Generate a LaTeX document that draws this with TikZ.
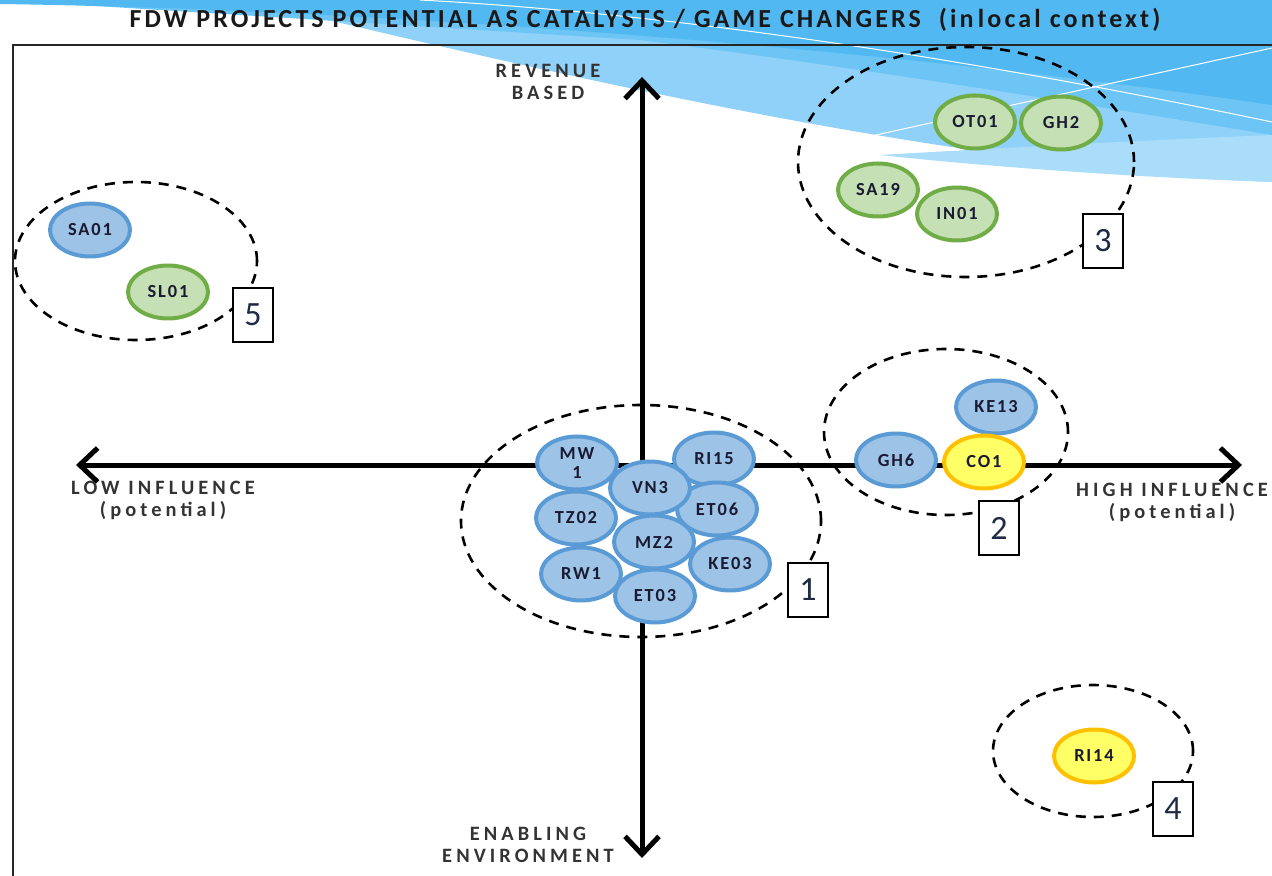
\documentclass[tikz,border=0pt]{standalone}
\usepackage{fontspec}
\setmainfont{Carlito}
\newfontfamily\titlefont[LetterSpace=12]{Carlito}
\newfontfamily\widefont[LetterSpace=20]{Carlito}
\newfontfamily\tagfont[LetterSpace=10]{Carlito}
\usepackage{xcolor}
\usetikzlibrary{shapes.geometric, arrows.meta}
\definecolor{swooshdark}{HTML}{52B8F1}
\definecolor{swooshmid}{HTML}{6CC5F5}
\definecolor{swooshlight}{HTML}{8FD1F8}
\definecolor{swooshpale}{HTML}{AADDF9}
\definecolor{projblue}{HTML}{5B9BD5}
\definecolor{projbluefill}{HTML}{9DC3E6}
\definecolor{projgreen}{HTML}{70AD47}
\definecolor{projgreenfill}{HTML}{C5E0B4}
\definecolor{projyellow}{HTML}{FFC000}
\definecolor{projyellowfill}{HTML}{FFFF66}
\definecolor{tagtext}{HTML}{1A1A33}
\definecolor{labelgray}{HTML}{333333}
\definecolor{numtext}{HTML}{1F2A44}

\begin{document}
\begin{tikzpicture}[x=0.5pt, y=-0.5pt,
  proj/.style={ellipse, line width=2pt, minimum width=40pt, minimum height=26.5pt,
               inner sep=0pt, align=center, text=tagtext,
               font=\tagfont\bfseries\fontsize{9.2}{9.5}\selectfont},
  blueproj/.style={proj, draw=projblue, fill=projbluefill},
  greenproj/.style={proj, draw=projgreen, fill=projgreenfill},
  yellowproj/.style={proj, draw=projyellow, fill=projyellowfill},
  ring/.style={ellipse, draw, line width=1.3pt, dash pattern=on 5pt off 4pt, inner sep=0pt},
  numbox/.style={draw, line width=0.6pt, fill=white, minimum width=20pt, minimum height=27pt,
                 inner sep=0pt, text=numtext, font=\fontsize{17}{17}\selectfont},
  axis/.style={line width=2.5pt,
               {Straight Barb[length=9pt,width=17pt]}-{Straight Barb[length=9pt,width=17pt]}},
  axislabel/.style={align=center, text=labelgray, font=\widefont\bfseries\fontsize{10.2}{11}\selectfont},
]
\useasboundingbox (0,0) rectangle (1272,876);

% Background swoosh
\fill[swooshlight] (0,0) -- (1272,0) -- (1272,182)
  .. controls (900,160) and (500,60) .. (260,4) -- (0,0) -- cycle;
\fill[swooshpale] (1272,135) .. controls (1150,140) and (1000,148) .. (880,155)
  .. controls (1000,168) and (1150,178) .. (1272,182) -- cycle;
\fill[swooshmid] (0,0) -- (1272,0) -- (1272,135)
  .. controls (1000,90) and (800,60) .. (640,40) -- cycle;
\fill[swooshdark] (0,0) -- (1272,0) -- (1272,105)
  .. controls (900,50) and (400,10) .. (0,4) -- cycle;
\draw[white, line width=0.5pt] (420,0) .. controls (700,15) and (1000,65) .. (1272,122);
\draw[white, line width=0.5pt] (853,140) -- (1272,48);

% Title and frame
\node[font=\titlefont\bfseries\fontsize{13}{14}\selectfont, text=black!90] (title) at (645,20)
  {FDW PROJECTS POTENTIAL AS CATALYSTS / GAME CHANGERS\ \ (in\,local context)};
\draw[line width=1pt, black!85] (13,876) -- (13,45) -- (1272,45);

% Axes
\coordinate (xleft) at (76,465);
\coordinate (xright) at (1242,465);
\coordinate (ytop) at (642,77);
\coordinate (ybot) at (642,858);
\draw[axis] (xleft) -- (xright);
\draw[axis] (ybot) -- (ytop);
\node[axislabel] (revenue) at (548,82) {REVENUE\\BASED};
\node[axislabel] (enabling) at (528,845) {ENABLING\\ENVIRONMENT};
\node[axislabel] (lowinf) at (163,500) {LOW INFLUENCE\\(potential)};
\node[axislabel] (highinf) at (1172,502) {HIGH INFLUENCE\\(potential)};

% Group 1
\node[ring, minimum width=180pt, minimum height=116pt] (g1) at (641,521) {};
\node[blueproj] (mw1) at (577,463) {MW\\1};
\node[blueproj] (ri15) at (714,459) {RI15};
\node[blueproj] (tz02) at (576,518) {TZ02};
\node[blueproj] (et06) at (717,509) {ET06};
\node[blueproj] (rw1) at (581,574) {RW1};
\node[blueproj] (ke03) at (730,564) {KE03};
\node[blueproj] (vn3) at (650,488) {VN3};
\node[blueproj] (mz2) at (654,542) {MZ2};
\node[blueproj] (et03) at (655,596) {ET03};
\node[numbox] (n1) at (808,590) {1};

% Group 2
\node[ring, minimum width=122pt, minimum height=83pt] (g2) at (946,432) {};
\node[blueproj] (ke13) at (996,407) {KE13};
\node[blueproj] (gh6) at (896,460) {GH6};
\node[yellowproj] (co1) at (984,462) {CO1};
\node[numbox] (n2) at (999,528) {2};

% Group 3
\node[ring, minimum width=168pt, minimum height=115pt] (g3) at (966,162) {};
\node[greenproj] (ot01) at (975,122) {OT01};
\node[greenproj] (gh2) at (1061,123) {GH2};
\node[greenproj] (sa19) at (878,190) {SA19};
\node[greenproj] (in01) at (957,214) {IN01};
\node[numbox] (n3) at (1103,241) {3};

% Group 4
\node[ring, minimum width=100pt, minimum height=66pt] (g4) at (1093,751) {};
\node[yellowproj] (ri14) at (1094,756) {RI14};
\node[numbox] (n4) at (1173,809) {4};

% Group 5
\node[ring, minimum width=121pt, minimum height=79pt] (g5) at (136,261) {};
\node[blueproj] (sa01) at (90,230) {SA01};
\node[greenproj] (sl01) at (168,292) {SL01};
\node[numbox] (n5) at (253,315) {5};
\end{tikzpicture}
\end{document}
